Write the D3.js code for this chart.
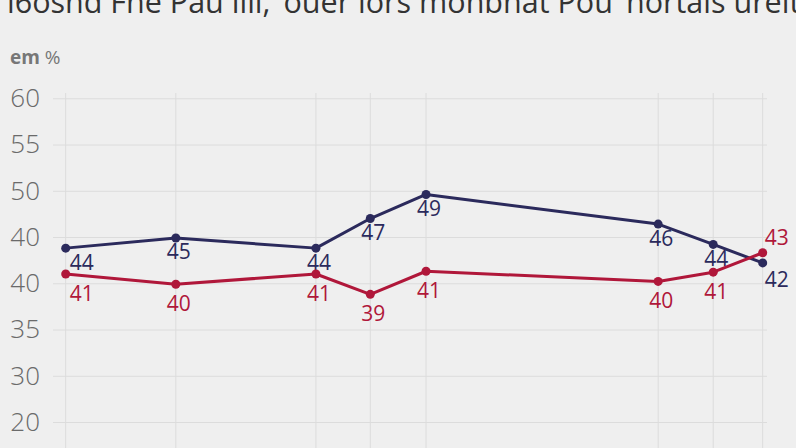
<!DOCTYPE html>
<html>
<head>
<meta charset="utf-8">
<script src="https://d3js.org/d3.v7.min.js"></script>
<style>
  html, body { margin: 0; padding: 0; background: #efefef; overflow: hidden; }
  svg { display: block; }
</style>
</head>
<body>
<svg id="chart" width="796" height="448"></svg>
<script>
// data
const titleText = "l6osnd Fne Pau lili, \u2018ouer lors monbnat Pou\u2019 nortais ureit";
const unitText = "em %";
const xPos = [0, 15.8, 35.9, 43.7, 51.7, 85.0, 92.9, 100];
const blueVals = [43.8, 44.9, 43.8, 47.0, 49.6, 46.4, 44.2, 42.2];
const redVals = [41.0, 39.9, 41.0, 38.8, 41.3, 40.2, 41.2, 43.3];
const blueLabels = ["44", "45", "44", "47", "49", "46", "44", "42"];
const redLabels = ["41", "40", "41", "39", "41", "40", "41", "43"];
const yTicks = [60, 55, 50, 45, 40, 35, 30, 25];
const yTickLabels = ["60", "55", "50", "40", "40", "35", "30", "20"];

const blueColor = "#2b2a5c";
const redColor = "#b0173a";

const svg = d3.select("#chart");

const x = d3.scaleLinear().domain([0, 100]).range([65.7, 762.7]);
const y = d3.scaleLinear().domain([25, 60]).range([422, 98.3]);

// title (cut at the top like the source)
svg.append("text")
  .attr("x", 7).attr("y", 13)
  .attr("fill", "#333")
  .style("font-family", "Open Sans, sans-serif")
  .style("font-size", "30.5px")
  .text(titleText);

// unit label
const unitParts = unitText.split(" ");
const unit = svg.append("text")
  .attr("x", 10).attr("y", 64)
  .attr("fill", "#777")
  .style("font-family", "Open Sans, sans-serif")
  .style("font-size", "19px");
unit.append("tspan").style("font-weight", "bold").text(unitParts[0]);
unit.append("tspan").text(" " + unitParts[1]);

// vertical gridlines
svg.append("g")
  .selectAll("line").data(xPos).enter().append("line")
  .attr("x1", d => x(d)).attr("x2", d => x(d))
  .attr("y1", 93).attr("y2", 448)
  .attr("stroke", "#dcdcdc").attr("stroke-width", 1);

// y axis with horizontal gridlines
const yAxis = svg.append("g")
  .attr("transform", "translate(53,0)")
  .call(d3.axisLeft(y).tickValues(yTicks)
    .tickSize(-714)
    .tickPadding(13)
    .tickFormat((d, i) => yTickLabels[i]));
yAxis.select(".domain").remove();
yAxis.selectAll(".tick line").attr("stroke", "#dcdcdc");
yAxis.selectAll(".tick text")
  .attr("fill", "#6a6a6a")
  .style("font-family", "Open Sans, sans-serif")
  .style("font-weight", "300")
  .style("font-size", "26px");

const line = d3.line().x((d, i) => x(xPos[i])).y(d => y(d));

function drawSeries(vals, labels, color, dyFn, dxFn, anchorFn) {
  const g = svg.append("g");
  g.append("path").datum(vals)
    .attr("d", line)
    .attr("fill", "none")
    .attr("stroke", color)
    .attr("stroke-width", 3)
    .attr("stroke-linejoin", "round");
  g.selectAll("circle").data(vals).enter().append("circle")
    .attr("cx", (d, i) => x(xPos[i]))
    .attr("cy", d => y(d))
    .attr("r", 4.5)
    .attr("fill", color);
  g.selectAll("text").data(vals).enter().append("text")
    .attr("x", (d, i) => x(xPos[i]) + dxFn(i))
    .attr("y", (d, i) => y(d) + dyFn(i))
    .attr("text-anchor", (d, i) => anchorFn(i))
    .attr("fill", color)
    .style("font-family", "Open Sans, sans-serif")
    .style("font-size", "21px")
    .text((d, i) => labels[i]);
}

const last = xPos.length - 1;
drawSeries(blueVals, blueLabels, blueColor,
  i => i === last ? 24 : 21.5,
  i => i === 0 ? 4 : (i === last ? 2 : 3),
  i => (i === 0 || i === last) ? "start" : "middle");
drawSeries(redVals, redLabels, redColor,
  i => i === last ? -8 : 27,
  i => i === 0 ? 4 : (i === last ? 2 : 3),
  i => (i === 0 || i === last) ? "start" : "middle");
</script>
</body>
</html>
